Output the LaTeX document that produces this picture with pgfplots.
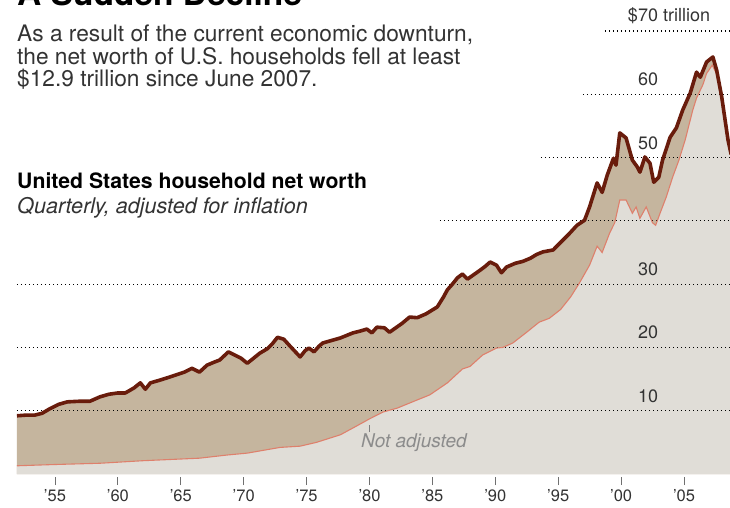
\documentclass[border=0pt]{standalone}
\usepackage{fontspec}
\setmainfont{TeX Gyre Heros}
\usepackage{pgfplots}
\usepackage{pgfplotstable}
\pgfplotsset{compat=1.18}
\definecolor{tanfill}{RGB}{197,181,158}
\definecolor{grayfill}{RGB}{224,221,215}
\definecolor{realline}{RGB}{105,28,12}
\definecolor{nomline}{RGB}{222,128,108}
\definecolor{txt}{RGB}{51,51,51}
\pgfplotstableread{
x y
1952.0 9.2
1952.7 9.3
1953.4 9.3
1954.0 9.6
1954.6 10.3
1955.3 11.0
1956.0 11.4
1957.0 11.5
1957.8 11.5
1958.6 12.2
1959.3 12.6
1960.0 12.8
1960.6 12.8
1961.3 13.6
1961.8 14.4
1962.2 13.4
1962.6 14.4
1963.3 14.8
1964.1 15.3
1964.7 15.7
1965.3 16.1
1965.9 16.7
1966.5 16.1
1967.1 17.2
1967.7 17.7
1968.1 18.0
1968.8 19.3
1969.3 18.8
1969.8 18.3
1970.3 17.5
1970.8 18.3
1971.3 19.1
1971.9 19.8
1972.3 20.6
1972.7 21.6
1973.2 21.3
1973.7 20.2
1974.5 18.5
1974.9 19.5
1975.2 19.9
1975.6 19.3
1976.0 20.2
1976.3 20.7
1977.0 21.1
1977.7 21.5
1978.2 21.9
1978.7 22.3
1979.3 22.6
1979.8 22.9
1980.2 22.3
1980.6 23.2
1981.2 23.1
1981.6 22.4
1982.1 23.1
1982.6 23.8
1983.2 24.8
1983.8 24.7
1984.5 25.3
1985.4 26.4
1985.9 28.0
1986.2 29.1
1986.6 30.0
1987.0 31.0
1987.4 31.6
1987.8 30.8
1988.3 31.5
1988.8 32.2
1989.2 32.8
1989.6 33.5
1990.1 33.0
1990.5 31.8
1990.9 32.7
1991.6 33.3
1992.2 33.6
1992.8 34.1
1993.3 34.7
1993.8 35.1
1994.6 35.4
1995.0 36.2
1995.4 37.0
1995.9 38.0
1996.5 39.3
1997.1 40.1
1997.5 42.2
1998.1 46.0
1998.5 44.5
1998.9 47.2
1999.4 49.9
1999.6 48.8
1999.9 53.9
2000.4 53.1
2000.9 49.6
2001.3 48.5
2001.5 47.7
2001.9 50.1
2002.3 49.1
2002.6 46.1
2003.0 46.9
2003.3 49.6
2003.9 53.2
2004.4 54.7
2004.9 57.5
2005.5 60.2
2006.0 63.5
2006.3 62.7
2006.8 65.1
2007.3 65.9
2007.6 63.8
2008.0 59.6
2008.5 52.8
2008.75 50.5
}\realdata
\pgfplotstableread{
x y
1952.0 1.3
1955.0 1.5
1958.6 1.7
1962.0 2.1
1966.5 2.5
1968.7 3.0
1970.3 3.3
1972.9 4.2
1974.5 4.4
1975.8 5.0
1977.7 6.2
1979.0 7.6
1980.0 8.7
1981.1 9.8
1982.2 10.4
1983.8 11.7
1984.8 12.5
1986.2 14.4
1987.4 16.6
1988.0 17.0
1989.0 18.8
1990.1 19.9
1990.6 20.0
1991.4 20.7
1992.5 22.4
1993.5 24.0
1994.3 24.6
1995.2 26.0
1996.0 28.0
1996.7 30.2
1997.5 33.0
1998.1 36.0
1998.5 35.0
1999.1 38.1
1999.5 39.7
1999.9 43.3
2000.4 43.3
2000.9 41.2
2001.2 42.2
2001.5 40.4
2002.0 42.2
2002.5 39.7
2002.75 39.3
2003.1 41.2
2003.6 43.8
2004.1 46.9
2004.6 49.6
2005.1 52.8
2005.7 57.5
2006.0 59.4
2006.5 61.5
2006.8 63.3
2007.25 64.6
2007.6 63.2
2008.0 59.2
2008.5 52.5
2008.75 50.3
}\nomdata
\begin{document}
\begin{tikzpicture}[x=1pt,y=1pt]
\clip (0,0) rectangle (730,507);
\fill[white] (0,0) rectangle (730,507);
\begin{axis}[at={(17pt,33pt)}, anchor=south west, scale only axis,
  width=713pt, height=443pt, xmin=1952, xmax=2008.66, ymin=0, ymax=70,
  axis lines=none, clip=false]
\addplot[fill=tanfill, draw=none] table[x=x,y=y]{\realdata} \closedcycle;
\addplot[fill=grayfill, draw=none] table[x=x,y=y]{\nomdata} \closedcycle;
\draw[black, line width=1.2pt, dash pattern=on 1.2pt off 2.8pt] (axis cs:1952,10) -- (axis cs:2008.66,10);
\draw[black, line width=1.2pt, dash pattern=on 1.2pt off 2.8pt] (axis cs:1952,20) -- (axis cs:2008.66,20);
\draw[black, line width=1.2pt, dash pattern=on 1.2pt off 2.8pt] (axis cs:1952,30) -- (axis cs:2008.66,30);
\draw[black, line width=1.2pt, dash pattern=on 1.2pt off 2.8pt] (axis cs:1985.6,40) -- (axis cs:2008.66,40);
\draw[black, line width=1.2pt, dash pattern=on 1.2pt off 2.8pt] (axis cs:1993.63,50) -- (axis cs:2008.66,50);
\draw[black, line width=1.2pt, dash pattern=on 1.2pt off 2.8pt] (axis cs:1996.97,60) -- (axis cs:2008.66,60);
\draw[black, line width=1.2pt, dash pattern=on 1.2pt off 2.8pt] (axis cs:1998.72,70) -- (axis cs:2008.66,70);
\addplot[nomline, line width=1.1pt] table[x=x,y=y]{\nomdata};
\addplot[realline, line width=3.6pt, line join=round] table[x=x,y=y]{\realdata};
\end{axis}
% x ticks
\foreach \i/\lab in {0/'55,1/'60,2/'65,3/'70,4/'75,5/'80,6/'85,7/'90,8/'95,9/'00,10/'05}{
  \draw[txt!70, line width=1pt] (55+62.9*\i,22) -- (55+62.9*\i,30);
  \node[txt, font=\fontsize{16.5}{16.5}\selectfont, anchor=center] at (55+62.9*\i,11) {\lab};
}
% gridline labels
\node[txt, font=\fontsize{18}{18}\selectfont] at (669,491) {\$70 trillion};
\node[txt, font=\fontsize{18}{18}\selectfont] at (648,428) {60};
\node[txt, font=\fontsize{18}{18}\selectfont] at (648,364) {50};
\node[txt, font=\fontsize{18}{18}\selectfont] at (648,238) {30};
\node[txt, font=\fontsize{18}{18}\selectfont] at (648,175) {20};
\node[txt, font=\fontsize{18}{18}\selectfont] at (648,111) {10};
% not adjusted
\draw[gray, line width=0.8pt] (369,82) -- (369,75);
\node[gray!90, font=\fontsize{19}{19}\selectfont\itshape, anchor=west, inner sep=0pt] at (361,64) {Not adjusted};
% titles
\node[black, font=\fontsize{33.5}{33.5}\selectfont\bfseries, anchor=base west, inner sep=0pt] at (17,501) {A Sudden Decline};
\node[txt, font=\fontsize{22.7}{22.7}\selectfont, anchor=base west, inner sep=0pt] at (17,465) {As a result of the current economic downturn,};
\node[txt, font=\fontsize{22.7}{22.7}\selectfont, anchor=base west, inner sep=0pt] at (17,442.5) {the net worth of U.S. households fell at least};
\node[txt, font=\fontsize{22.7}{22.7}\selectfont, anchor=base west, inner sep=0pt] at (17,420) {\$12.9 trillion since June 2007.};
\node[black, font=\fontsize{21.2}{21.2}\selectfont\bfseries, anchor=base west, inner sep=0pt] at (17,319) {United States household net worth};
\node[txt, font=\fontsize{21.6}{21.6}\selectfont\itshape, anchor=base west, inner sep=0pt] at (17,294) {Quarterly, adjusted for inflation};
\end{tikzpicture}
\end{document}
